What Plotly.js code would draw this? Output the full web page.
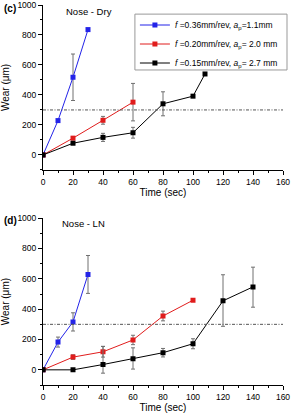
<!DOCTYPE html>
<html><head><meta charset="utf-8">
<script src="https://cdn.plot.ly/plotly-3.0.1.min.js"></script>
<style>html,body{margin:0;padding:0;background:#fff;}#chart{width:295px;height:413px;}</style>
</head><body><div id="chart"></div>
<script>
// Panel (c) Nose - Dry
const dryBlueX = [0, 10, 20, 30];
const dryBlueY = [0, 229, 518, 836];
const dryBlueErr = [0, 0, 155, 0];
const dryRedX = [0, 20, 40, 60];
const dryRedY = [0, 112, 231, 352];
const dryRedErr = [0, 10, 26, 125];
const dryBlackX = [0, 20, 40, 60, 80, 100, 108];
const dryBlackY = [0, 78, 117, 148, 341, 392, 540];
const dryBlackErr = [0, 6, 27, 36, 80, 6, 0];
// Panel (d) Nose - LN
const lnBlueX = [0, 10, 20, 30];
const lnBlueY = [0, 183, 316, 629];
const lnBlueErr = [0, 33, 60, 125];
const lnRedX = [0, 20, 40, 60, 80, 100];
const lnRedY = [0, 84, 119, 197, 355, 459];
const lnRedErr = [0, 15, 35, 31, 32, 0];
const lnBlackX = [0, 20, 40, 60, 80, 100, 120, 140];
const lnBlackY = [0, 0, 35, 73, 113, 172, 455, 547];
const lnBlackErrPlus = [0, 0, 120, 72, 28, 33, 172, 130];
const lnBlackErrMinus = [0, 0, 57, 68, 28, 33, 168, 134];
const threshold = 300;
const legendNames = [
  '<i>f</i> =0.36mm/rev, <i>a</i><sub>p</sub>=1.1mm',
  '<i>f</i> =0.20mm/rev, <i>a</i><sub>p</sub>= 2.0 mm',
  '<i>f</i> =0.15mm/rev, <i>a</i><sub>p</sub>= 2.7 mm'
];
const colors = ['#2323e8', '#e01c1c', '#000000'];

function tr(x, y, plus, minus, ci, xa, ya, show) {
  return {
    x: x, y: y, type: 'scatter', mode: 'lines+markers',
    name: legendNames[ci], showlegend: show, xaxis: xa, yaxis: ya,
    line: {color: colors[ci], width: 1},
    marker: {symbol: 'square', size: 5, color: colors[ci]},
    error_y: {type: 'data', symmetric: minus === null, array: plus,
      arrayminus: minus === null ? undefined : minus,
      color: '#707070', thickness: 1, width: 2}
  };
}
const data = [
  tr(dryBlueX, dryBlueY, dryBlueErr, null, 0, 'x', 'y', true),
  tr(dryRedX, dryRedY, dryRedErr, null, 1, 'x', 'y', true),
  tr(dryBlackX, dryBlackY, dryBlackErr, null, 2, 'x', 'y', true),
  tr(lnBlueX, lnBlueY, lnBlueErr, null, 0, 'x2', 'y2', false),
  tr(lnRedX, lnRedY, lnRedErr, null, 1, 'x2', 'y2', false),
  tr(lnBlackX, lnBlackY, lnBlackErrPlus, lnBlackErrMinus, 2, 'x2', 'y2', false)
];
const font = {family: 'Liberation Sans, Arial, sans-serif', size: 10, color: '#000'};
function xax(anchor) {
  return {
    anchor: anchor, range: [0, 160], dtick: 20, tick0: 0, automargin: false,
    ticks: 'outside', ticklen: 4, tickcolor: '#000', showgrid: false, zeroline: false,
    showline: true, linecolor: '#000', linewidth: 1, ticklabeloverflow: 'allow',
    minor: {dtick: 10, ticks: 'outside', ticklen: 2, tickcolor: '#000', showgrid: false},
    tickfont: {size: 8.5}, title: {text: 'Time (sec)', font: {size: 10}, standoff: 2}
  };
}
function yax(anchor, domain) {
  return {
    anchor: anchor, domain: domain, range: [-100, 1000], dtick: 200, tick0: 0, automargin: false,
    ticks: 'outside', ticklen: 4, tickcolor: '#000', showgrid: false, zeroline: false,
    showline: true, linecolor: '#000', linewidth: 1, ticklabeloverflow: 'allow',
    minor: {dtick: 100, ticks: 'outside', ticklen: 2, tickcolor: '#000', showgrid: false},
    tickfont: {size: 8.5}, title: {text: 'Wear (μm)', font: {size: 10}, standoff: 6}
  };
}
const layout = {
  width: 295, height: 413,
  margin: {l: 43, r: 12, t: 5, b: 28, autoexpand: false},
  paper_bgcolor: '#fff', plot_bgcolor: '#fff',
  font: font, showlegend: true,
  xaxis: xax('y'), yaxis: yax('x', [0.566, 1]),
  xaxis2: xax('y2'), yaxis2: yax('x2', [0, 0.439]),
  legend: {x: 0.383, y: 0.9855, xanchor: 'left', yanchor: 'top', yref: 'paper',
    bgcolor: 'rgba(0,0,0,0)', borderwidth: 0, font: {size: 8.5}, tracegroupgap: 0,
    itemwidth: 30},
  shapes: [
    {type: 'line', xref: 'x', yref: 'y', x0: 0, x1: 160, y0: threshold, y1: threshold,
      line: {color: '#555', width: 1, dash: '3px,1.5px,1px,1.5px'}},
    {type: 'line', xref: 'x2', yref: 'y2', x0: 0, x1: 160, y0: threshold, y1: threshold,
      line: {color: '#555', width: 1, dash: '3px,1.5px,1px,1.5px'}},
    {type: 'rect', xref: 'paper', yref: 'paper', x0: 0.383, x1: 1.0167, y0: 0.829, y1: 0.976,
      layer: 'above', fillcolor: '#fff', line: {color: '#999', width: 1}}
  ],
  annotations: [
    {text: '<b>(c)</b>', xref: 'paper', yref: 'paper', x: -0.17, y: 0.99, xanchor: 'left', yanchor: 'middle', showarrow: false, font: {size: 10}},
    {text: '<b>(d)</b>', xref: 'paper', yref: 'paper', x: -0.17, y: 0.434, xanchor: 'left', yanchor: 'middle', showarrow: false, font: {size: 10}},
    {text: 'Nose - Dry', xref: 'paper', yref: 'paper', x: 0.088, y: 0.982, xanchor: 'left', yanchor: 'middle', showarrow: false, font: {size: 9.5}},
    {text: 'Nose - LN', xref: 'paper', yref: 'paper', x: 0.071, y: 0.424, xanchor: 'left', yanchor: 'middle', showarrow: false, font: {size: 9.5}}
  ]
};
Plotly.newPlot('chart', data, layout, {displayModeBar: false, staticPlot: true});
</script></body></html>
